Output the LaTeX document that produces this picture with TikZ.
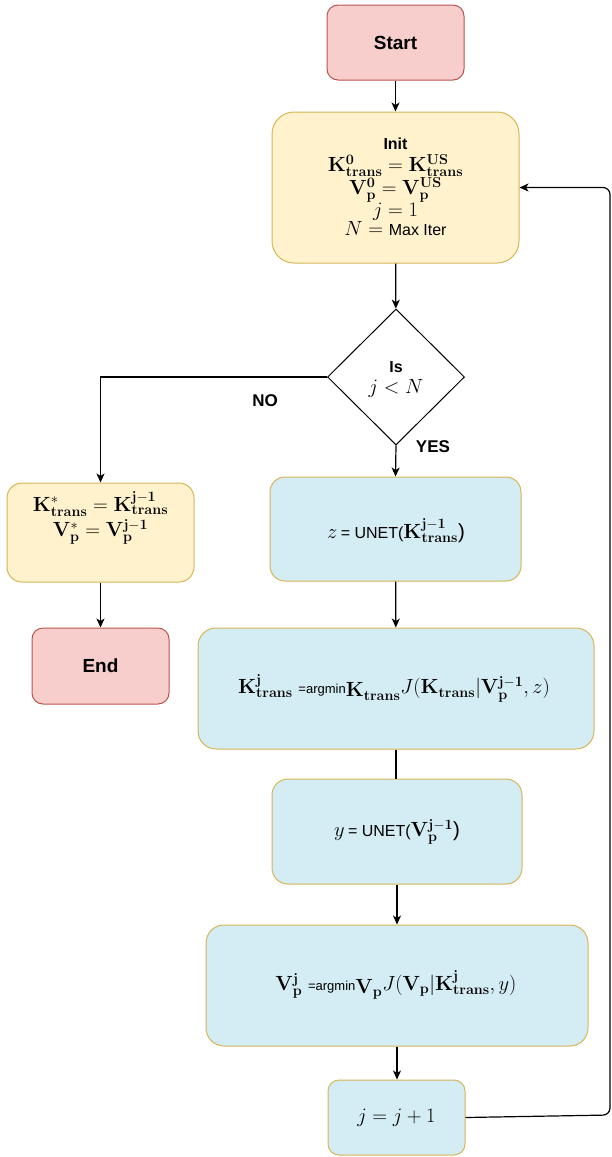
\RequirePackage{fix-cm}
\documentclass[tikz,border=0pt]{standalone}
\usepackage[no-math]{fontspec}
\setmainfont{Liberation Sans}
\usetikzlibrary{shapes.geometric,arrows.meta}
\definecolor{pinkF}{HTML}{F8CECC}
\definecolor{pinkD}{HTML}{B85450}
\definecolor{yelF}{HTML}{FFF2CC}
\definecolor{yelD}{HTML}{D6B656}
\definecolor{bluF}{HTML}{D4ECF3}
\newcommand{\tf}{\fontsize{16}{22}\selectfont}
\newcommand{\mf}{\fontsize{20.5}{22}\selectfont}
\newcommand{\bK}{\mathbf{K}}
\newcommand{\bV}{\mathbf{V}}
\begin{document}
\begin{tikzpicture}[x=1pt,y=-1pt,
  box/.style={draw, line width=1pt, inner sep=0pt, align=center, rectangle},
  pinkbox/.style={box, fill=pinkF, draw=pinkD, font=\fontsize{19}{22}\selectfont\bfseries},
  yelbox/.style={box, fill=yelF, draw=yelD},
  blubox/.style={box, fill=bluF, draw=yelD},
  txt/.style={inner sep=0pt, align=center, font=\mf},
  arr/.style={line width=1.2pt, -{Stealth[length=9pt,width=8pt,inset=2.5pt]}},
  ln/.style={line width=1.2pt},
  lab/.style={inner sep=0pt, font=\fontsize{17}{20}\selectfont\bfseries}
]
\useasboundingbox (0,0) rectangle (612,1157);

\node[pinkbox, minimum width=137pt, minimum height=75pt, rounded corners=11pt] (start) at (395.5,42.5) {Start};

\node[yelbox, minimum width=247pt, minimum height=151pt, rounded corners=22pt] (init) at (395.5,187.5) {};
\node[txt] (inittext) at (395.5,187) {{\tf\bfseries Init}\\
 $\bK^{\mathbf{0}}_{\mathbf{trans}}=\bK^{\mathbf{US}}_{\mathbf{trans}}$\\
 $\bV^{\mathbf{0}}_{\mathbf{p}}=\bV^{\mathbf{US}}_{\mathbf{p}}$\\
 $j=1$\\[-3pt]
 $N=$ {\tf Max Iter}};

\node[draw, line width=1pt, diamond, minimum width=137pt, minimum height=136pt, inner sep=0pt, align=center] (dec) at (396,377) {};
\node[txt] (dectext) at (396,379) {{\tf\bfseries Is}\\[-1pt] $j<N$};

\node[yelbox, minimum width=187pt, minimum height=99pt, rounded corners=15pt] (fin) at (100.5,532.5) {};
\node[txt] (fintext) at (100.5,518) {$\bK^{*}_{\mathbf{trans}}=\bK^{\mathbf{j-1}}_{\mathbf{trans}}$\\[2pt]
 $\bV^{*}_{\mathbf{p}}=\bV^{\mathbf{j-1}}_{\mathbf{p}}$};

\node[pinkbox, minimum width=137pt, minimum height=76pt, rounded corners=11pt] (end) at (100.5,666) {End};

\node[blubox, minimum width=251pt, minimum height=104pt, rounded corners=15pt] (zb) at (395.5,529) {};
\node[txt] (ztext) at (396,531) {$z$\,{\tf = UNET(}$\bK^{\mathbf{j-1}}_{\mathbf{trans}}$)};

\node[blubox, minimum width=396pt, minimum height=121pt, rounded corners=18pt] (kb) at (396,688.5) {};
\node[txt] (ktext) at (394,688) {$\bK^{\mathbf{j}}_{\mathbf{trans}}$ {\fontsize{13}{14}\selectfont =argmin}\raisebox{-3pt}{$\bK_{\mathbf{trans}}$}$J(\bK_{\mathbf{trans}}|\bV^{\mathbf{j-1}}_{\mathbf{p}},z)$};

\node[blubox, minimum width=250pt, minimum height=105pt, rounded corners=16pt] (yb) at (397,831.5) {};
\node[txt] (ytext) at (397,832) {$y$\,{\tf = UNET(}$\bV^{\mathbf{j-1}}_{\mathbf{p}}$)};

\node[blubox, minimum width=382pt, minimum height=121pt, rounded corners=18pt] (vb) at (397,985.5) {};
\node[txt] (vtext) at (396,985) {$\bV^{\mathbf{j}}_{\mathbf{p}}$ {\fontsize{13}{14}\selectfont =argmin}\raisebox{-3pt}{$\bV_{\mathbf{p}}$}$J(\bV_{\mathbf{p}}|\bK^{\mathbf{j}}_{\mathbf{trans}},y)$};

\node[blubox, minimum width=137pt, minimum height=75pt, rounded corners=11pt, font=\mf] (jb) at (396.5,1117.5) {$j=j+1$};

\node[lab] (no) at (265,401) {NO};
\node[lab] (yes) at (433,447) {YES};

\draw[arr] (start) -- (init);
\draw[arr] (init) -- (dec);
\draw[arr] (dec.west) -| (fin.north);
\draw[arr] (dec.south) -- (zb.north);
\draw[arr] (fin) -- (end);
\draw[arr] (zb) -- (kb);
\draw[ln] (kb.south) -- (kb.south |- yb.north);
\draw[arr] (yb.south) -- (yb.south |- vb.north);
\draw[arr] (vb.south) -- (vb.south |- jb.north);
\coordinate (c1) at (610,1115);
\coordinate (c2) at (610,187.5);
\draw[arr, rounded corners=7pt] (jb.east) -- (c1) -- (c2) -- (init.east);
\end{tikzpicture}
\end{document}
